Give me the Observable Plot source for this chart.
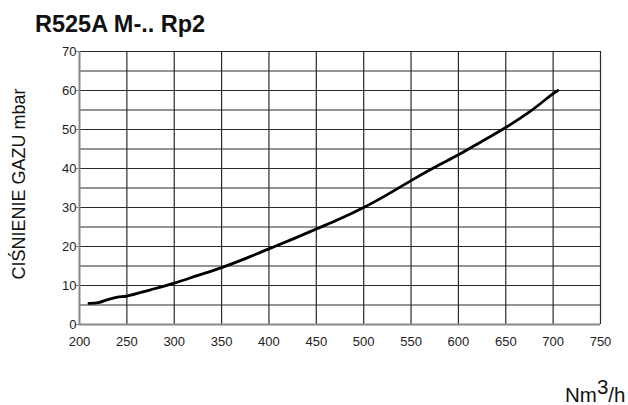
<!DOCTYPE html>
<html>
<head>
<meta charset="utf-8">
<script src="https://cdn.jsdelivr.net/npm/d3@7"></script>
<script src="https://cdn.jsdelivr.net/npm/@observablehq/plot@0.6"></script>
<style>
  html, body { margin: 0; padding: 0; background: #fff; }
  svg { display: block; }
</style>
</head>
<body>
<div id="chart"></div>
<script>
const title = "R525A M-.. Rp2";
const yLabel = "CIŚNIENIE GAZU mbar";
const flow = [210, 220, 230, 240, 250, 275, 300, 325, 350, 375, 400, 425, 450, 475, 500, 525, 550, 575, 600, 625, 650, 675, 700, 705];
const pressure = [5.4, 5.6, 6.4, 7.0, 7.3, 8.9, 10.6, 12.6, 14.6, 16.9, 19.4, 21.9, 24.5, 27.1, 30.0, 33.3, 36.9, 40.3, 43.5, 47.0, 50.5, 54.5, 59.2, 60.0];
const xTicks = [200, 250, 300, 350, 400, 450, 500, 550, 600, 650, 700, 750];
const yTicks = [0, 10, 20, 30, 40, 50, 60, 70];
const yGrid = [5, 10, 15, 20, 25, 30, 35, 40, 45, 50, 55, 60, 65, 70];
const xGrid = [250, 300, 350, 400, 450, 500, 550, 600, 650, 700, 750];

const data = flow.map((f, i) => ({flow: f, p: pressure[i]}));

const chart = Plot.plot({
  width: 628,
  height: 405,
  marginLeft: 79,
  marginRight: 28,
  marginTop: 51,
  marginBottom: 81,
  style: {fontFamily: "'Liberation Sans', Arial, sans-serif", fontSize: "13px", color: "#222", background: "#fff"},
  x: {domain: [200, 750]},
  y: {domain: [0, 70]},
  marks: [
    Plot.ruleY(yGrid, {y: d => d, stroke: "#2a2a2a", strokeWidth: 1.2}),
    Plot.ruleX(xGrid, {x: d => d, stroke: "#2a2a2a", strokeWidth: 1.2}),
    Plot.ruleY([0], {stroke: "#888", strokeWidth: 2}),
    Plot.ruleX([200], {stroke: "#888", strokeWidth: 2}),
    Plot.line(data, {x: "flow", y: "p", stroke: "#000", strokeWidth: 2.8, curve: "catmull-rom"}),
    Plot.axisX({ticks: xTicks, tickSize: 0, tickPadding: 12, label: null}),
    Plot.axisY({ticks: yTicks, tickSize: 3, tickPadding: 0, label: null, stroke: "#888"})
  ]
});

const svg = d3.select(chart);
svg.append("text")
  .attr("x", 35).attr("y", 32)
  .attr("text-anchor", "start")
  .attr("font-size", 23.5).attr("font-weight", "bold")
  .attr("fill", "#111")
  .text(title);
svg.append("text")
  .attr("transform", "translate(25,184) rotate(-90)")
  .attr("text-anchor", "middle")
  .attr("font-size", 18)
  .attr("fill", "#111")
  .text(yLabel);
const xl = svg.append("text")
  .attr("x", 565).attr("y", 402)
  .attr("text-anchor", "start")
  .attr("font-size", 20.5)
  .attr("fill", "#111");
xl.append("tspan").text("Nm");
xl.append("tspan").attr("dy", -8).text("3");
xl.append("tspan").attr("dy", 8).text("/h");

document.getElementById("chart").appendChild(chart);
</script>
</body>
</html>
